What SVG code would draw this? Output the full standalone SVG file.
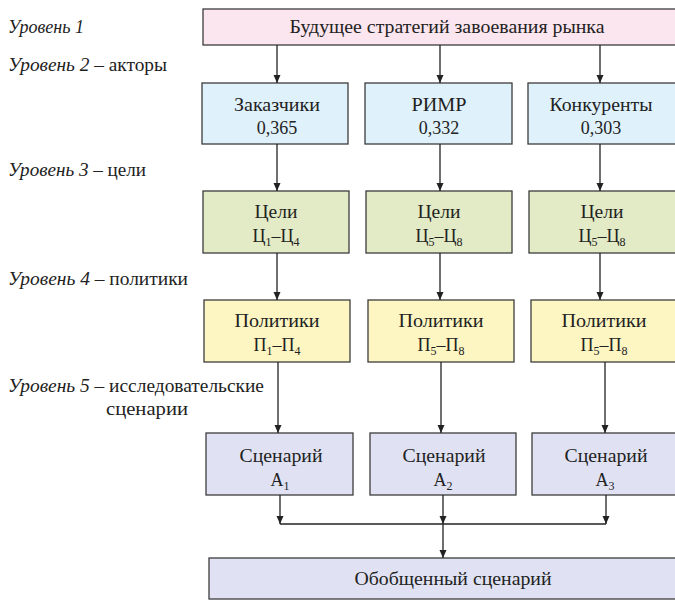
<svg xmlns="http://www.w3.org/2000/svg" width="675" height="601" viewBox="0 0 675 601">
<defs>
<marker id="ah" viewBox="0 0 8 12" refX="8" refY="6" markerWidth="8" markerHeight="12" markerUnits="userSpaceOnUse" orient="auto">
<path d="M0,2.5 L8,6 L0,9.5 Z" fill="#222"/>
</marker>
<style>
.b{stroke:#3c3c3c;stroke-width:1.3}
.pink{fill:#fbe5ee}.blue{fill:#dff1fb}.green{fill:#e3ebc6}.yel{fill:#fdf6c3}.lav{fill:#e0e2f3}
.t{font-family:'Liberation Serif',serif;font-size:18px;fill:#222;text-anchor:middle}
.s{font-size:12px}
.lab{font-family:'Liberation Serif',serif;font-size:18px;fill:#222}
.i{font-style:italic}
.c{stroke:#222;stroke-width:1.3;fill:none}
.a{marker-end:url(#ah)}
</style>
</defs>
<g id="labels">
<text class="lab" x="8" y="33" textLength="76" lengthAdjust="spacingAndGlyphs"><tspan class="i">Уровень 1</tspan></text>
<text class="lab" x="8" y="71" textLength="159" lengthAdjust="spacingAndGlyphs"><tspan class="i">Уровень 2</tspan> – акторы</text>
<text class="lab" x="8" y="176" textLength="138" lengthAdjust="spacingAndGlyphs"><tspan class="i">Уровень 3</tspan> – цели</text>
<text class="lab" x="8" y="285" textLength="180" lengthAdjust="spacingAndGlyphs"><tspan class="i">Уровень 4</tspan> – политики</text>
<text class="lab" x="8" y="392" textLength="256" lengthAdjust="spacingAndGlyphs"><tspan class="i">Уровень 5</tspan> – исследовательские</text>
<text class="lab" x="106" y="415" textLength="82" lengthAdjust="spacingAndGlyphs">сценарии</text>
</g>
<g id="n_top"><rect class="b pink" x="203" y="9" width="473" height="36"/><text class="t" x="447" y="33" textLength="315" lengthAdjust="spacingAndGlyphs">Будущее стратегий завоевания рынка</text></g>
<g id="n_a1"><rect class="b blue" x="202" y="83" width="146" height="61"/><text class="t" x="277" y="111" textLength="86" lengthAdjust="spacingAndGlyphs">Заказчики</text><text class="t" x="277" y="134">0,365</text></g>
<g id="n_a2"><rect class="b blue" x="365" y="83" width="147" height="61"/><text class="t" x="439" y="111" textLength="55" lengthAdjust="spacingAndGlyphs">РИМР</text><text class="t" x="439" y="134">0,332</text></g>
<g id="n_a3"><rect class="b blue" x="528" y="83" width="148" height="61"/><text class="t" x="601" y="111" textLength="103" lengthAdjust="spacingAndGlyphs">Конкуренты</text><text class="t" x="601" y="134">0,303</text></g>
<g id="n_g1"><rect class="b green" x="203" y="191" width="146" height="62"/><text class="t" x="276" y="218" textLength="43" lengthAdjust="spacingAndGlyphs">Цели</text><text class="t" x="276" y="242">Ц<tspan class="s" dy="4">1</tspan><tspan dy="-4">–Ц</tspan><tspan class="s" dy="4">4</tspan></text></g>
<g id="n_g2"><rect class="b green" x="366" y="191" width="146" height="62"/><text class="t" x="439" y="218" textLength="43" lengthAdjust="spacingAndGlyphs">Цели</text><text class="t" x="439" y="242">Ц<tspan class="s" dy="4">5</tspan><tspan dy="-4">–Ц</tspan><tspan class="s" dy="4">8</tspan></text></g>
<g id="n_g3"><rect class="b green" x="529" y="191" width="147" height="62"/><text class="t" x="602" y="218" textLength="43" lengthAdjust="spacingAndGlyphs">Цели</text><text class="t" x="602" y="242">Ц<tspan class="s" dy="4">5</tspan><tspan dy="-4">–Ц</tspan><tspan class="s" dy="4">8</tspan></text></g>
<g id="n_p1"><rect class="b yel" x="204" y="300" width="146" height="62"/><text class="t" x="277" y="327" textLength="85" lengthAdjust="spacingAndGlyphs">Политики</text><text class="t" x="277" y="351">П<tspan class="s" dy="4">1</tspan><tspan dy="-4">–П</tspan><tspan class="s" dy="4">4</tspan></text></g>
<g id="n_p2"><rect class="b yel" x="368" y="300" width="146" height="62"/><text class="t" x="441" y="327" textLength="85" lengthAdjust="spacingAndGlyphs">Политики</text><text class="t" x="441" y="351">П<tspan class="s" dy="4">5</tspan><tspan dy="-4">–П</tspan><tspan class="s" dy="4">8</tspan></text></g>
<g id="n_p3"><rect class="b yel" x="531" y="300" width="145" height="62"/><text class="t" x="604" y="327" textLength="85" lengthAdjust="spacingAndGlyphs">Политики</text><text class="t" x="604" y="351">П<tspan class="s" dy="4">5</tspan><tspan dy="-4">–П</tspan><tspan class="s" dy="4">8</tspan></text></g>
<g id="n_s1"><rect class="b lav" x="206" y="433" width="147" height="62"/><text class="t" x="281" y="462" textLength="83" lengthAdjust="spacingAndGlyphs">Сценарий</text><text class="t" x="280" y="486">А<tspan class="s" dy="4">1</tspan></text></g>
<g id="n_s2"><rect class="b lav" x="370" y="433" width="146" height="62"/><text class="t" x="444" y="462" textLength="83" lengthAdjust="spacingAndGlyphs">Сценарий</text><text class="t" x="443" y="486">А<tspan class="s" dy="4">2</tspan></text></g>
<g id="n_s3"><rect class="b lav" x="532" y="433" width="144" height="62"/><text class="t" x="606" y="462" textLength="83" lengthAdjust="spacingAndGlyphs">Сценарий</text><text class="t" x="605" y="486">А<tspan class="s" dy="4">3</tspan></text></g>
<g id="n_final"><rect class="b lav" x="209" y="558" width="467" height="41"/><text class="t" x="453" y="585" textLength="197" lengthAdjust="spacingAndGlyphs">Обобщенный сценарий</text></g>
<g id="connectors">
<line class="c a" x1="277" y1="45" x2="277" y2="83"/>
<line class="c a" x1="440" y1="45" x2="440" y2="83"/>
<line class="c a" x1="600" y1="45" x2="600" y2="83"/>
<line class="c a" x1="277" y1="144" x2="277" y2="191"/>
<line class="c a" x1="440" y1="144" x2="440" y2="191"/>
<line class="c a" x1="600" y1="144" x2="600" y2="191"/>
<line class="c a" x1="277" y1="253" x2="277" y2="300"/>
<line class="c a" x1="440" y1="253" x2="440" y2="300"/>
<line class="c a" x1="600" y1="253" x2="600" y2="300"/>
<line class="c a" x1="278" y1="362" x2="278" y2="433"/>
<line class="c a" x1="441" y1="362" x2="441" y2="433"/>
<line class="c a" x1="605" y1="362" x2="605" y2="433"/>
<line class="c a" x1="280" y1="495" x2="280" y2="524"/>
<line class="c a" x1="443" y1="495" x2="443" y2="524"/>
<line class="c a" x1="606" y1="495" x2="606" y2="524"/>
<line class="c" x1="280" y1="524" x2="606" y2="524"/>
<line class="c a" x1="443" y1="524" x2="443" y2="558"/>
</g>
</svg>
